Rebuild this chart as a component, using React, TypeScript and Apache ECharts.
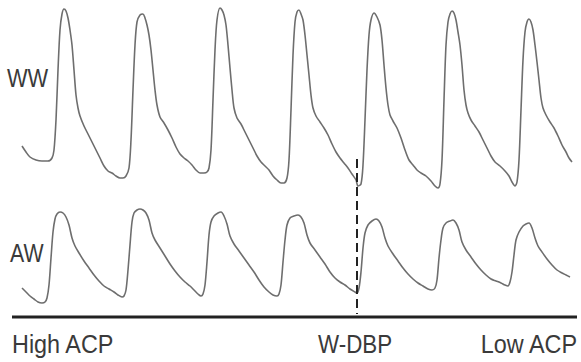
import React, { useEffect, useRef } from "react";
import * as echarts from "echarts";

// Time (sample units) and amplitude (inverted screen units) of the traces
const wwTime = [22,26,30,36,42,48,52,54,56,58,60,62,64,66,68,70,72,74,76,78,80,84,88,92,96,100,104,108,112,116,120,123,126,129,131,133,135,137,140,143,145,147,149,151,153,155,157,160,164,168,172,176,180,184,188,192,196,200,204,207,209,211,213,215,217,220,222,224,226,228,230,232,234,237,241,245,249,253,257,261,265,269,273,277,281,284,287,289,291,293,295,297,299,301,303,305,307,309,311,313,316,320,324,328,332,336,340,344,348,352,356,358,361,363,365,367,369,371,374,377,380,382,384,386,388,390,393,397,401,405,409,413,417,421,426,431,435,438,440,442,444,446,448,450,452,454,456,458,460,462,464,466,468,471,475,479,483,487,491,495,500,505,509,512,515,517,519,521,523,525,527,529,531,533,535,537,539,541,543,546,550,554,558,562,566,569,572];
const wwValue = [146,152,157,160,161,161,158,150,120,70,30,14,9,11,18,30,45,70,95,108,116,126,134,142,150,158,166,171,173,176,178,178,176,168,140,90,45,22,15,14,18,25,35,50,70,90,105,117,123,130,138,147,154,158,161,165,170,173,173,172,168,150,100,50,20,8,10,15,25,45,68,90,108,118,124,132,140,148,156,162,166,170,176,180,183,183,178,160,110,55,22,12,10,14,20,35,55,75,95,108,116,122,128,135,144,152,158,163,168,174,180,186,184,165,120,70,35,20,13,17,25,40,65,88,105,115,121,128,138,150,160,165,170,173,176,181,186,188,184,160,100,45,22,14,11,13,20,32,45,65,90,105,113,120,126,132,140,148,156,162,166,171,176,182,186,182,160,110,60,32,22,19,22,30,45,62,80,98,108,115,122,128,136,145,152,158,162];

const awTime = [22,26,30,34,38,42,45,47,49,51,53,55,57,60,63,66,69,72,75,79,84,89,94,99,104,109,114,118,122,124,126,128,130,132,134,137,140,143,146,149,152,155,160,165,170,175,180,185,190,194,198,201,203,205,207,209,211,214,218,221,224,227,230,234,239,244,249,254,259,264,269,273,277,279,281,283,285,287,290,294,298,301,304,307,310,315,320,325,330,335,340,345,350,355,357,359,361,363,365,368,372,376,379,382,385,388,393,398,403,408,413,418,423,428,432,435,437,439,441,443,446,450,453,456,459,462,466,471,476,481,486,491,496,501,505,508,510,512,514,516,519,523,526,529,532,535,538,542,547,552,557,562,566,570];
const awValue = [288,292,296,299,302,303,302,298,285,258,232,219,214,212,213,217,225,238,246,253,261,268,275,281,286,289,292,295,297,296,290,270,245,222,213,210,209,210,213,220,233,240,248,256,264,271,277,282,286,290,294,296,294,285,262,235,222,216,213,212,216,224,236,244,251,258,265,272,280,287,292,295,296,294,285,262,240,225,218,216,215,217,223,235,243,250,257,264,272,278,282,285,289,292,293,288,272,248,233,225,221,219,221,227,238,246,254,261,268,274,279,283,286,289,290,288,280,258,240,228,223,221,220,223,230,242,250,257,264,270,275,279,281,283,285,286,282,272,255,240,232,226,224,223,228,238,246,252,259,265,270,273,275,277];

const baselineTime = [12, 577];
const baselineLevel = [317, 317];
const markerTime = 357;
const markerRange = [159, 314];

const traceLabels = ["WW", "AW"];
const axisLabels = ["High ACP", "W-DBP", "Low ACP"];

export default function App() {
  const ref = useRef<HTMLDivElement>(null);
  useEffect(() => {
    if (!ref.current) return;
    const chart = echarts.init(ref.current, null, { renderer: "svg" });
    const zip = (xs: number[], ys: number[]) => xs.map((x, i) => [x, ys[i]]);
    const font = "'Liberation Sans', Arial, sans-serif";
    const txt = (text: string, x: number, y: number, align: string, sx: number) => ({
      type: "text",
      x,
      y,
      scaleX: sx,
      style: {
        text,
        fill: "#3a3a3a",
        fontSize: 26,
        fontFamily: font,
        align,
        verticalAlign: "middle",
      },
    });
    chart.setOption({
      animation: false,
      grid: { left: 0, right: 0, top: 0, bottom: 0 },
      xAxis: { type: "value", min: 0, max: 581, show: false },
      yAxis: { type: "value", min: 0, max: 362, inverse: true, show: false },
      series: [
        {
          type: "line",
          name: "WW",
          data: zip(wwTime, wwValue),
          showSymbol: false,
          smooth: 0.3,
          lineStyle: { color: "#6e6e6e", width: 1.6 },
        },
        {
          type: "line",
          name: "AW",
          data: zip(awTime, awValue),
          showSymbol: false,
          smooth: 0.3,
          lineStyle: { color: "#6e6e6e", width: 1.6 },
        },
        {
          type: "line",
          name: "axis",
          data: zip(baselineTime, baselineLevel),
          showSymbol: false,
          lineStyle: { color: "#222", width: 3 },
          markLine: {
            silent: true,
            symbol: "none",
            label: { show: false },
            lineStyle: { color: "#222", width: 2, type: [9, 5] },
            data: [
              [
                { coord: [markerTime, markerRange[0]] },
                { coord: [markerTime, markerRange[1]] },
              ],
            ],
          },
        },
      ],
      graphic: [
        txt(traceLabels[0], 7, 78, "left", 0.84),
        txt(traceLabels[1], 10, 253, "left", 0.82),
        txt(axisLabels[0], 12, 344, "left", 0.9),
        txt(axisLabels[1], 318, 344, "left", 0.86),
        txt(axisLabels[2], 577, 344, "right", 0.9),
      ],
    });
    return () => chart.dispose();
  }, []);
  return <div ref={ref} style={{ width: 581, height: 362, position: "absolute", left: 0, top: 0 }} />;
}
